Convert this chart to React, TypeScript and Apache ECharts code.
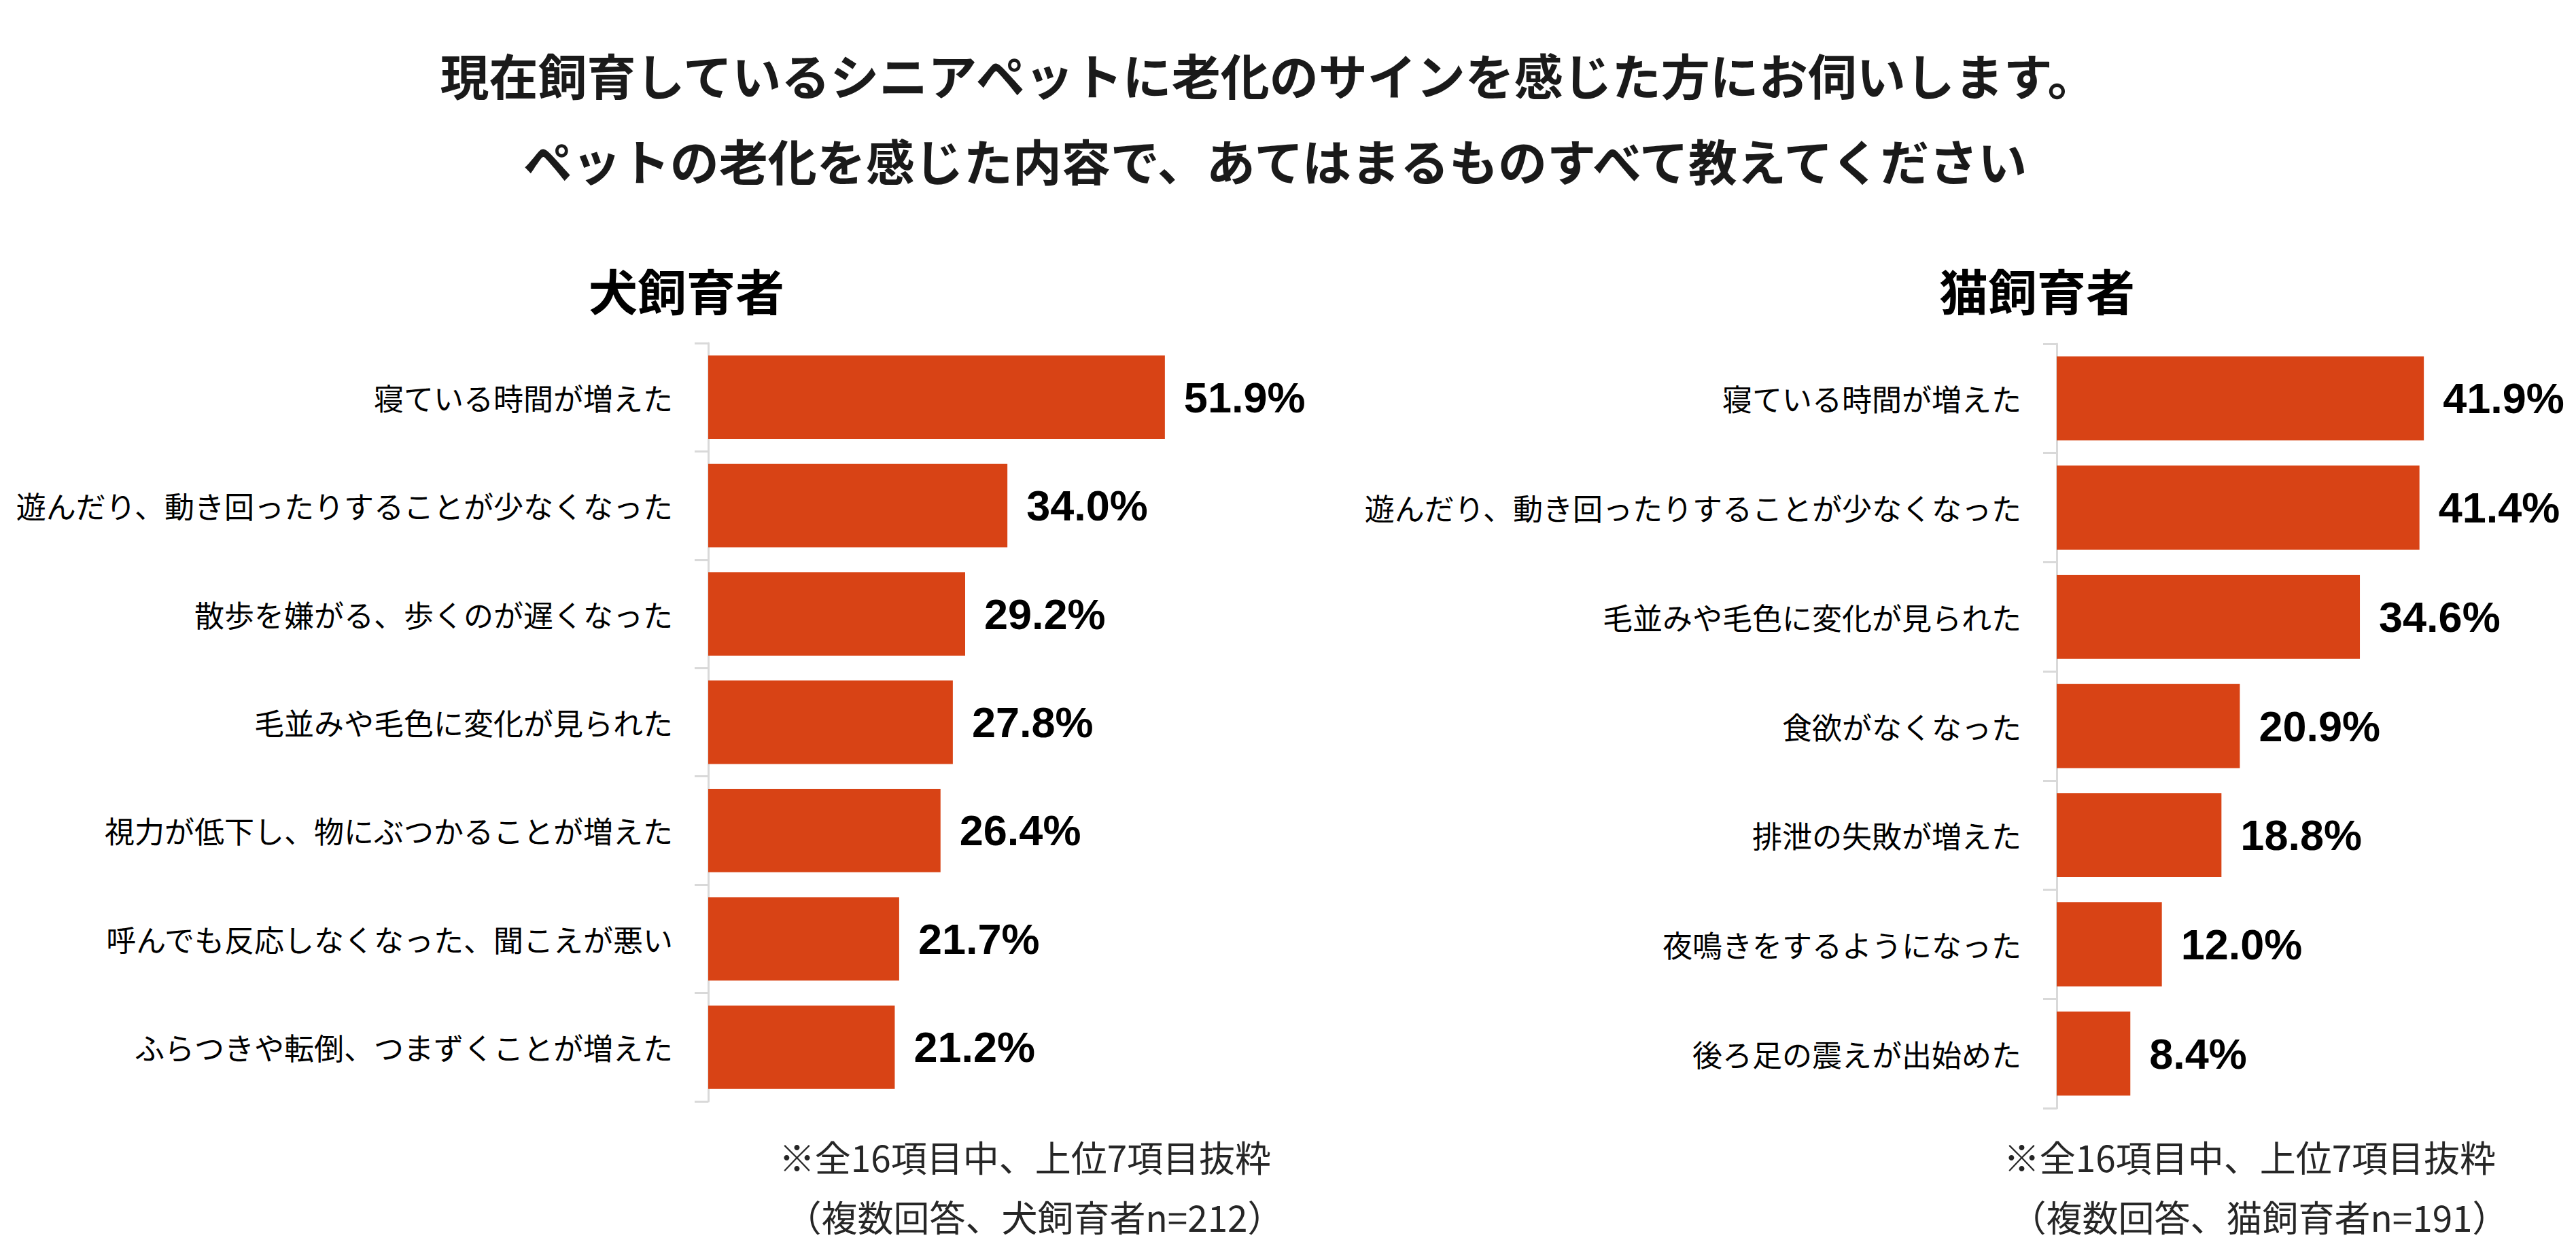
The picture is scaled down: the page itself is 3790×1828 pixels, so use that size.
import React, { useEffect, useRef } from "react";
import * as echarts from "echarts";

const titleLines = [
  "現在飼育しているシニアペットに老化のサインを感じた方にお伺いします。",
  "ペットの老化を感じた内容で、あてはまるものすべて教えてください",
];

const dogTitle = "犬飼育者";
const catTitle = "猫飼育者";

const dogCategories = [
  "寝ている時間が増えた",
  "遊んだり、動き回ったりすることが少なくなった",
  "散歩を嫌がる、歩くのが遅くなった",
  "毛並みや毛色に変化が見られた",
  "視力が低下し、物にぶつかることが増えた",
  "呼んでも反応しなくなった、聞こえが悪い",
  "ふらつきや転倒、つまずくことが増えた",
];
const dogValues = [51.9, 34.0, 29.2, 27.8, 26.4, 21.7, 21.2];

const catCategories = [
  "寝ている時間が増えた",
  "遊んだり、動き回ったりすることが少なくなった",
  "毛並みや毛色に変化が見られた",
  "食欲がなくなった",
  "排泄の失敗が増えた",
  "夜鳴きをするようになった",
  "後ろ足の震えが出始めた",
];
const catValues = [41.9, 41.4, 34.6, 20.9, 18.8, 12.0, 8.4];

const dogNotes = ["※全16項目中、上位7項目抜粋", "（複数回答、犬飼育者n=212）"];
const catNotes = ["※全16項目中、上位7項目抜粋", "（複数回答、猫飼育者n=191）"];

const CJK = "'Noto Sans CJK JP', 'Noto Sans CJK SC', sans-serif";
const LATIN = "'Liberation Sans', Arial, sans-serif";
const BAR = "#D84315";
const AXIS = "#d9d9d9";

export default function App() {
  const ref = useRef<HTMLDivElement>(null);

  useEffect(() => {
    if (!ref.current) return;
    const chart = echarts.init(ref.current, undefined, { renderer: "svg" });

    const yAxisBase = (idx: number, cats: string[]) => ({
      type: "category",
      gridIndex: idx,
      data: cats,
      inverse: true,
      axisLine: { show: true, lineStyle: { color: AXIS, width: 3 } },
      axisTick: { show: true, length: 20, lineStyle: { color: AXIS, width: 3 } },
      axisLabel: {
        fontSize: 44,
        fontFamily: CJK,
        color: "#000",
        margin: 52,
      },
      splitLine: { show: false },
    });

    const seriesBase = (idx: number, vals: number[]) => ({
      type: "bar",
      xAxisIndex: idx,
      yAxisIndex: idx,
      data: vals,
      barCategoryGap: "23%",
      itemStyle: { color: BAR },
      label: {
        show: true,
        position: "right",
        distance: 28,
        formatter: (p: any) => Number(p.value).toFixed(1) + "%",
        fontSize: 63,
        fontWeight: "bold",
        fontFamily: LATIN,
        color: "#000",
      },
    });

    const graphics: any[] = [
      {
        type: "text",
        x: 1866,
        y: 108,
        style: {
          text: titleLines[0],
          font: `bold 72px ${CJK}`,
          fill: "#1a1a1a",
          textAlign: "center",
          textVerticalAlign: "middle",
        },
      },
      {
        type: "text",
        x: 1876,
        y: 234,
        style: {
          text: titleLines[1],
          font: `bold 72px ${CJK}`,
          fill: "#1a1a1a",
          textAlign: "center",
          textVerticalAlign: "middle",
        },
      },
      {
        type: "text",
        x: 1010,
        y: 425,
        style: {
          text: dogTitle,
          font: `bold 72px ${CJK}`,
          fill: "#000",
          textAlign: "center",
          textVerticalAlign: "middle",
        },
      },
      {
        type: "text",
        x: 2997,
        y: 425,
        style: {
          text: catTitle,
          font: `bold 72px ${CJK}`,
          fill: "#000",
          textAlign: "center",
          textVerticalAlign: "middle",
        },
      },
    ];
    const notePos = [
      { x: 1508, notes: dogNotes },
      { x: 3310, notes: catNotes },
    ];
    notePos.forEach((n) => {
      n.notes.forEach((t, i) => {
        graphics.push({
          type: "text",
          x: i === 0 ? n.x : n.x + 14,
          y: i === 0 ? 1702 : 1790,
          style: {
            text: t,
            font: `53px ${CJK}`,
            fill: "#262626",
            textAlign: "center",
            textVerticalAlign: "middle",
          },
        });
      });
    });

    chart.setOption({
      animation: false,
      backgroundColor: "#ffffff",
      grid: [
        { left: 1042, top: 505, width: 712, height: 1116 },
        { left: 3026, top: 506, width: 709, height: 1125 },
      ],
      xAxis: [
        { type: "value", gridIndex: 0, min: 0, max: 55, show: false },
        { type: "value", gridIndex: 1, min: 0, max: 55, show: false },
      ],
      yAxis: [yAxisBase(0, dogCategories), yAxisBase(1, catCategories)],
      series: [seriesBase(0, dogValues), seriesBase(1, catValues)],
      graphic: graphics,
    });

    return () => chart.dispose();
  }, []);

  return (
    <div
      ref={ref}
      style={{ position: "fixed", left: 0, top: 0, width: 3790, height: 1828 }}
    />
  );
}
